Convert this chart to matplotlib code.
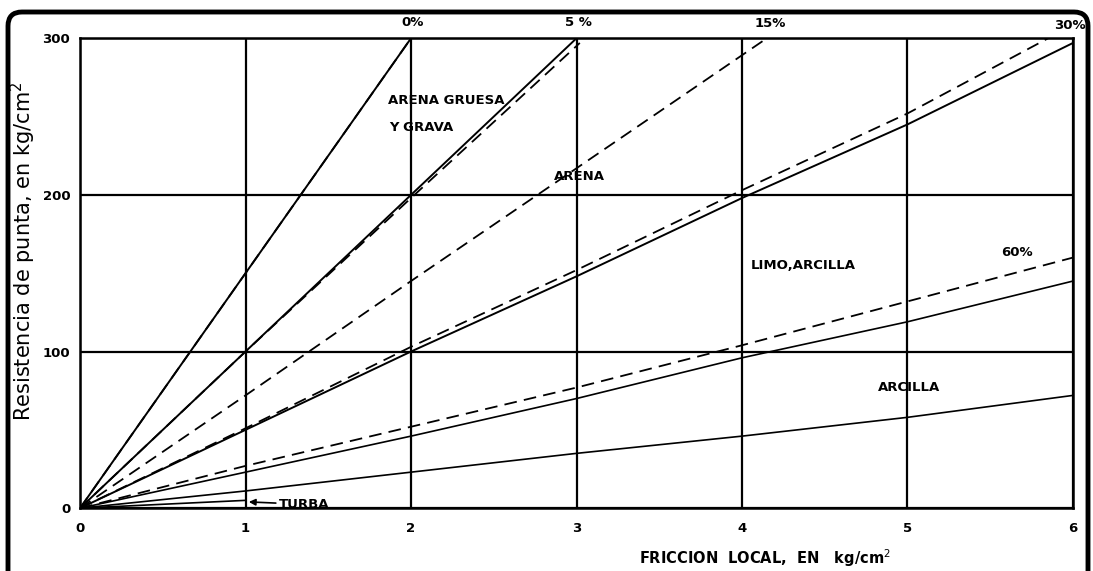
import matplotlib.pyplot as plt
from matplotlib.patches import FancyBboxPatch

# friccion local (kg/cm2) and resistencia de punta (kg/cm2)
x_pts = [0, 1, 2, 3, 4, 5, 6]

# solid boundary lines
solid_150 = [0, 150, 300]                       # x = 0..2
solid_100 = [0, 100, 200, 300]                  # x = 0..3
solid_50 = [0, 50, 100, 148, 198, 245, 297]
solid_24 = [0, 23, 46, 70, 96, 119, 145]
solid_12 = [0, 11, 23, 35, 46, 58, 72]
turba_x = [0, 1]
turba_y = [0, 5]

# dashed friction-ratio lines
pct_labels = ['0%', '5 %', '15%', '30%', '60%']
dash_0_x, dash_0_y = [0, 1, 2], [0, 150, 300]
dash_5_x, dash_5_y = [0, 1, 2, 3.02], [0, 100, 198, 297]
dash_15_x, dash_15_y = [0, 1, 2, 3, 4.15], [0, 72, 145, 217, 300]
dash_30_x, dash_30_y = [0, 1, 2, 3, 4, 5, 5.85], [0, 51, 103, 152, 203, 252, 300]
dash_60 = [0, 27, 52, 77, 104, 132, 160]

fig = plt.figure(figsize=(10.93, 5.71), dpi=100)
ax = fig.add_axes([0.0732, 0.110, 0.9085, 0.823])

lw = 1.4
ax.plot(x_pts[:3], solid_150, color='black', lw=lw)
ax.plot(x_pts[:4], solid_100, color='black', lw=lw)
ax.plot(x_pts, solid_50, color='black', lw=lw)
ax.plot(x_pts, solid_24, color='black', lw=1.2)
ax.plot(x_pts, solid_12, color='black', lw=1.2)
ax.plot(turba_x, turba_y, color='black', lw=1.2)

dash = (0, (7, 4))
ax.plot(dash_0_x, dash_0_y, color='black', lw=1.3, ls=dash)
ax.plot(dash_5_x, dash_5_y, color='black', lw=1.3, ls=dash)
ax.plot(dash_15_x, dash_15_y, color='black', lw=1.3, ls=dash)
ax.plot(dash_30_x, dash_30_y, color='black', lw=1.3, ls=dash)
ax.plot(x_pts, dash_60, color='black', lw=1.3, ls=dash)

ax.set_xlim(0, 6)
ax.set_ylim(0, 300)
ax.set_xticks(range(0, 7))
ax.set_yticks([0, 100, 200, 300])
ax.grid(True, color='black', lw=1.6)
ax.set_axisbelow(True)
for s in ax.spines.values():
    s.set_linewidth(1.8)
ax.tick_params(axis='x', length=0, pad=10, labelsize=9.5)
ax.tick_params(axis='y', length=0, pad=7, labelsize=9.5)
for t in ax.get_xticklabels() + ax.get_yticklabels():
    t.set_fontweight('bold')

ax.set_ylabel('Resistencia de punta, en kg/cm$^2$', fontsize=15)
ax.yaxis.set_label_coords(-0.042, 0.547)
ax.set_xlabel('FRICCION  LOCAL,  EN   kg/cm$^2$', fontsize=10.5, fontweight='bold')
ax.xaxis.set_label_coords(0.69, -0.083)

tk = dict(fontsize=9.5, fontweight='bold', clip_on=False)
ax.text(2.01, 306, pct_labels[0], ha='center', va='bottom', **tk)
ax.text(3.01, 306, pct_labels[1], ha='center', va='bottom', **tk)
ax.text(4.17, 305, pct_labels[2], ha='center', va='bottom', **tk)
ax.text(5.98, 304, pct_labels[3], ha='center', va='bottom', **tk)
ax.text(5.66, 163, pct_labels[4], ha='center', va='center', **tk)
ax.text(1.86, 260, 'ARENA GRUESA', ha='left', va='center', **tk)
ax.text(1.87, 243, 'Y GRAVA', ha='left', va='center', **tk)
ax.text(3.02, 212, 'ARENA', ha='center', va='center', **tk)
ax.text(4.05, 155, 'LIMO,ARCILLA', ha='left', va='center', **tk)
ax.text(4.82, 77, 'ARCILLA', ha='left', va='center', **tk)
ax.annotate('TURBA', xy=(1.02, 4), xytext=(1.2, 2.5), va='center',
            arrowprops=dict(arrowstyle='-|>', color='black', lw=1.2,
                            shrinkA=0, shrinkB=0),
            **tk)

# outer rounded frame (open at the bottom)
frame = FancyBboxPatch((8, -60), 1080, 619, boxstyle='round,pad=0,rounding_size=14',
                       transform=None, fill=False, lw=3.5, ec='black')
fig.patches.append(frame)

fig.savefig('out.png', dpi=100)
